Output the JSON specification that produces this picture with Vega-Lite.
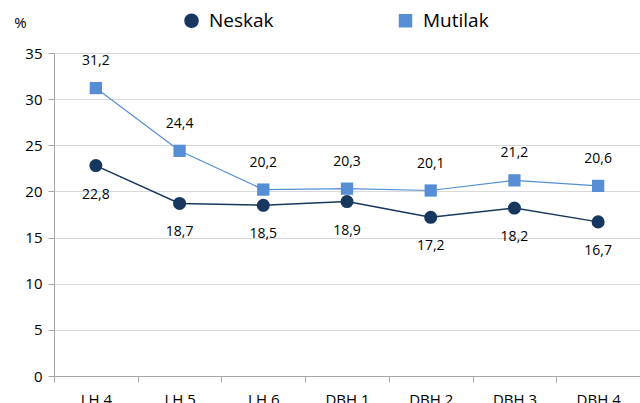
{
  "$schema": "https://vega.github.io/schema/vega-lite/v6.json",
  "width": 586,
  "height": 323,
  "autosize": {"type": "none"},
  "padding": {"left": 54, "top": 53, "right": 0, "bottom": 27},
  "config": {
    "locale": {"number": {"decimal": ",", "thousands": ".", "grouping": [3], "currency": ["", " €"]}},
    "font": "Open Sans",
    "view": {"stroke": null},
    "axis": {"labelFont": "Open Sans", "titleFont": "Open Sans"}
  },
  "data": {
    "values": [
      {"maila": "LH 4", "seriea": "Neskak", "balioa": 22.8},
      {"maila": "LH 5", "seriea": "Neskak", "balioa": 18.7},
      {"maila": "LH 6", "seriea": "Neskak", "balioa": 18.5},
      {"maila": "DBH 1", "seriea": "Neskak", "balioa": 18.9},
      {"maila": "DBH 2", "seriea": "Neskak", "balioa": 17.2},
      {"maila": "DBH 3", "seriea": "Neskak", "balioa": 18.2},
      {"maila": "DBH 4", "seriea": "Neskak", "balioa": 16.7},
      {"maila": "LH 4", "seriea": "Mutilak", "balioa": 31.2},
      {"maila": "LH 5", "seriea": "Mutilak", "balioa": 24.4},
      {"maila": "LH 6", "seriea": "Mutilak", "balioa": 20.2},
      {"maila": "DBH 1", "seriea": "Mutilak", "balioa": 20.3},
      {"maila": "DBH 2", "seriea": "Mutilak", "balioa": 20.1},
      {"maila": "DBH 3", "seriea": "Mutilak", "balioa": 21.2},
      {"maila": "DBH 4", "seriea": "Mutilak", "balioa": 20.6}
    ]
  },
  "encoding": {
    "x": {
      "field": "maila", "type": "nominal", "sort": null,
      "scale": {"paddingInner": 0, "paddingOuter": 0},
      "axis": {
        "title": null, "labelAngle": 0, "labelFontSize": 15, "labelColor": "#000000",
        "domainColor": "#A6A6A6", "tickColor": "#A6A6A6", "tickSize": 6, "tickBand": "extent",
        "labelPadding": 10, "grid": false
      }
    },
    "y": {
      "field": "balioa", "type": "quantitative",
      "scale": {"domain": [0, 35], "nice": false},
      "axis": {
        "values": [0, 5, 10, 15, 20, 25, 30, 35], "labelFontSize": 15, "labelColor": "#000000",
        "domainColor": "#A6A6A6", "tickColor": "#A6A6A6", "tickSize": 6, "labelPadding": 6,
        "gridColor": "#D9D9D9", "gridWidth": 1,
        "title": "%", "titleAngle": 0, "titleFontSize": 15, "titleFontWeight": "normal",
        "titleX": -34, "titleY": -31, "titleAlign": "center", "titleBaseline": "middle"
      }
    },
    "color": {
      "field": "seriea", "type": "nominal",
      "scale": {"domain": ["Neskak", "Mutilak"], "range": ["#17375E", "#558ED5"]},
      "legend": {
        "title": null, "orient": "none", "legendX": 128, "legendY": -42,
        "direction": "horizontal", "labelFontSize": 19, "labelColor": "#000000",
        "symbolSize": 170, "columnPadding": 122, "symbolOpacity": 1, "labelOffset": 8
      }
    }
  },
  "layer": [
    {
      "mark": {"type": "line"},
      "encoding": {
        "strokeWidth": {"field": "seriea", "type": "nominal", "scale": {"domain": ["Neskak", "Mutilak"], "range": [1.5, 1.2]}, "legend": null}
      }
    },
    {
      "mark": {"type": "point", "filled": true, "opacity": 1},
      "encoding": {
        "shape": {"field": "seriea", "type": "nominal", "scale": {"domain": ["Neskak", "Mutilak"], "range": ["circle", "square"]}},
        "size": {"field": "seriea", "type": "nominal", "scale": {"domain": ["Neskak", "Mutilak"], "range": [170, 150]}, "legend": null}
      }
    },
    {
      "transform": [{"filter": "datum.seriea === 'Mutilak'"}],
      "mark": {"type": "text", "dy": -27, "fontSize": 14, "color": "#000000"},
      "encoding": {"text": {"field": "balioa", "type": "quantitative", "format": ".1f"}, "color": {"value": "#000000"}}
    },
    {
      "transform": [{"filter": "datum.seriea === 'Neskak'"}],
      "mark": {"type": "text", "dy": 29, "fontSize": 14, "color": "#000000"},
      "encoding": {"text": {"field": "balioa", "type": "quantitative", "format": ".1f"}, "color": {"value": "#000000"}}
    }
  ]
}
